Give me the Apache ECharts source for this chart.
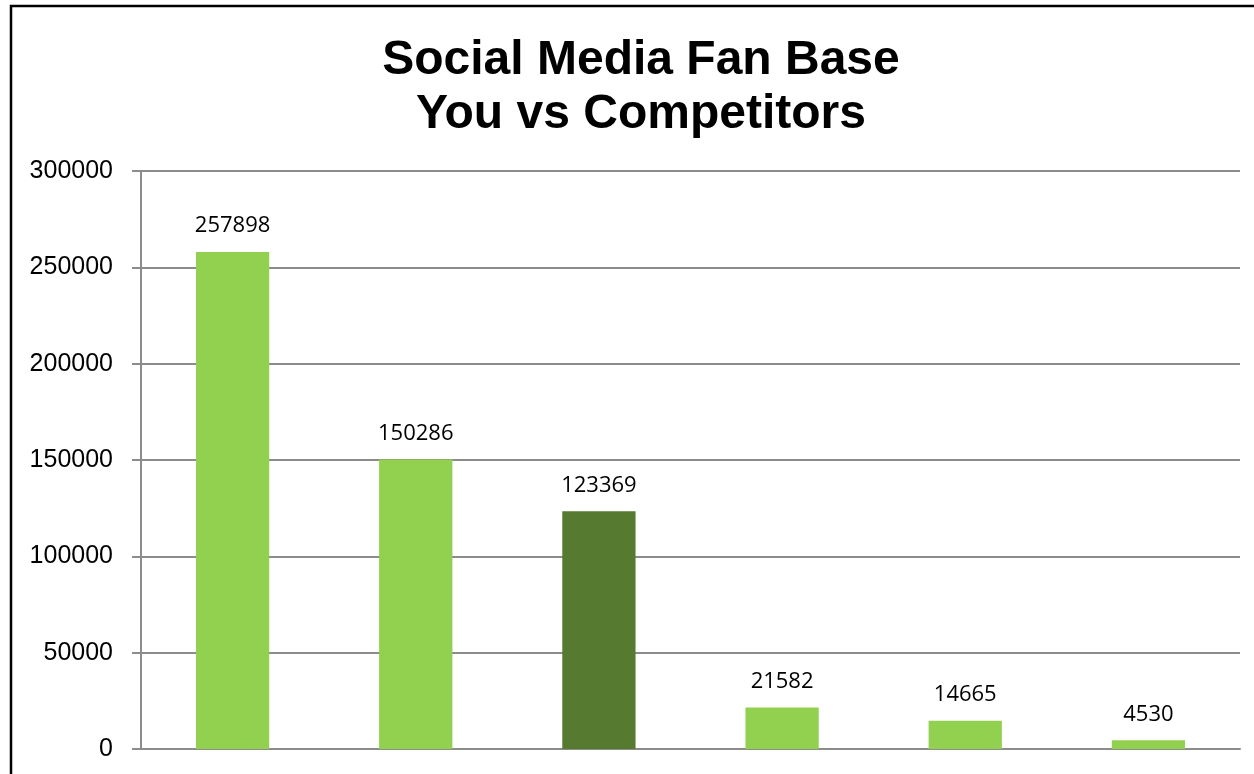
<!DOCTYPE html>
<html>
<head>
<meta charset="utf-8">
<script src="https://cdn.jsdelivr.net/npm/echarts@6/dist/echarts.min.js"></script>
<style>
html,body{margin:0;padding:0;background:#fff;}
#chart{width:1254px;height:774px;}
</style>
</head>
<body>
<div id="chart"></div>
<script>
const categories = ['C1', 'C2', 'You', 'C4', 'C5', 'C6'];
const values = [257898, 150286, 123369, 21582, 14665, 4530];
const highlightIndex = 2;
const yTicks = [0, 50000, 100000, 150000, 200000, 250000, 300000];

const chart = echarts.init(document.getElementById('chart'));
chart.setOption({
  animation: false,
  backgroundColor: '#ffffff',
  title: {
    text: 'Social Media Fan Base\nYou vs Competitors',
    left: 636,
    textAlign: 'center',
    top: 29,
    textStyle: {
      fontFamily: 'Liberation Sans',
      fontWeight: 'bold',
      fontSize: 48,
      lineHeight: 54,
      color: '#000'
    }
  },
  graphic: [{
    type: 'rect',
    shape: { x: 11, y: 6, width: 1250, height: 800 },
    style: { fill: 'none', stroke: '#000', lineWidth: 2.5 },
    silent: true,
    z: 100
  }],
  grid: { left: 141, right: 14, top: 171, bottom: 25 },
  xAxis: {
    type: 'category',
    data: categories,
    axisLine: { show: true, lineStyle: { color: '#8c8c8c', width: 2 } },
    axisTick: { show: false },
    axisLabel: { show: false }
  },
  yAxis: {
    type: 'value',
    min: yTicks[0],
    max: yTicks[yTicks.length - 1],
    interval: yTicks[1] - yTicks[0],
    axisLine: { show: true, lineStyle: { color: '#8c8c8c', width: 2 } },
    axisTick: { show: true, length: 9, lineStyle: { color: '#8c8c8c', width: 2 } },
    splitLine: { show: true, lineStyle: { color: '#8c8c8c', width: 2 } },
    axisLabel: {
      margin: 28,
      fontFamily: 'Liberation Sans',
      fontSize: 25,
      color: '#000',
      formatter: (v) => String(v)
    }
  },
  series: [{
    type: 'bar',
    barWidth: '40%',
    data: values.map((v, i) => ({
      value: v,
      itemStyle: { color: i === highlightIndex ? '#567A30' : '#92D050' }
    })),
    label: {
      show: true,
      position: 'top',
      distance: 15,
      fontFamily: 'Open Sans',
      fontSize: 22,
      color: '#000'
    }
  }]
});
</script>
</body>
</html>
